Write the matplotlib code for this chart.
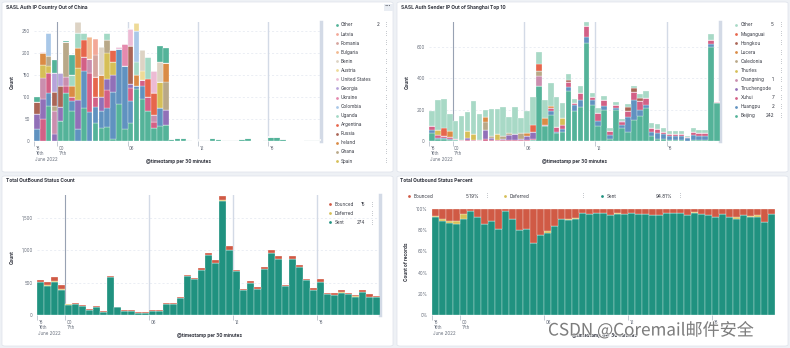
import matplotlib
matplotlib.use("Agg")
import matplotlib.pyplot as plt
import matplotlib.patheffects as pe
from matplotlib.patches import FancyBboxPatch, Rectangle
from matplotlib.lines import Line2D
from matplotlib.transforms import ScaledTranslation
import numpy as np

plt.rcParams['font.family'] = ['Inter', 'DejaVu Sans']

W, H = 790, 348
N_BARS = 49  # 30 minute buckets, 22:00 16th -> 22:30 17th
tick_pos = [0, 4, 16, 28, 40]
tick_labels = ["18\n16th\nJune 2022", "00\n17th", "06", "12", "18"]

# ---- SASL Auth IP Country Out of China (first 23 buckets, bottom -> top)
tl_hidden_green = [0, 0, 80, 0, 45, 110, 68, 0, 75, 0, 40, 30, 32, 5, 85, 28, 40, 118, 95, 68, 30, 35, 37]
tl_hidden_blue = [28, 0, 28, 0, 0, 0, 22, 28, 83, 65, 38, 38, 43, 107, 123, 142, 50, 7, 30, 0, 0, 40, 0]
tl_hidden_pink = [0, 50, 47, 0, 0, 15, 10, 0, 32, 90, 22, 0, 40, 0, 0, 0, 30, 0, 13, 32, 12, 0, 0]
tl_hidden_purple = [34, 46, 0, 15, 32, 0, 0, 64, 0, 0, 0, 32, 25, 38, 0, 0, 10, 0, 0, 0, 0, 0, 34]
tl_hidden_mauve = [0, 46, 0, 53, 0, 20, 0, 0, 0, 32, 0, 0, 0, 0, 0, 0, 0, 0, 0, 0, 18, 0, 0]
tl_spain = [0, 30, 15, 0, 0, 0, 0, 73, 0, 0, 0, 0, 60, 30, 0, 0, 0, 0, 0, 0, 0, 60, 0]
tl_ghana = [0, 0, 23, 12, 0, 80, 0, 0, 0, 0, 0, 0, 30, 0, 0, 0, 0, 0, 0, 0, 0, 0, 64]
tl_ireland = [0, 28, 0, 0, 0, 0, 25, 45, 0, 0, 0, 50, 0, 0, 0, 0, 0, 25, 0, 0, 0, 0, 41]
tl_russia = [26, 0, 0, 32, 48, 0, 0, 0, 0, 0, 0, 0, 0, 0, 0, 0, 85, 0, 0, 0, 0, 0, 0]
tl_argentina = [0, 0, 0, 0, 0, 0, 0, 0, 40, 0, 45, 0, 0, 26, 0, 0, 0, 0, 0, 40, 50, 0, 0]
tl_uganda = [0, 0, 0, 0, 0, 0, 25, 35, 14, 0, 0, 0, 15, 0, 0, 0, 0, 30, 0, 50, 0, 0, 0]
tl_colombia = [0, 0, 52, 0, 0, 0, 0, 0, 0, 0, 0, 0, 0, 0, 0, 0, 0, 70, 0, 0, 0, 0, 0]
tl_ukraine = [0, 0, 0, 0, 0, 0, 0, 0, 0, 0, 0, 0, 0, 0, 0, 50, 0, 0, 0, 0, 0, 0, 0]
tl_georgia = [0, 0, 0, 43, 30, 0, 0, 0, 0, 0, 0, 0, 0, 0, 0, 0, 0, 0, 0, 0, 0, 0, 0]
tl_us = [0, 2, 0, 0, 0, 0, 0, 0, 0, 0, 0, 0, 0, 0, 6, 0, 40, 0, 0, 0, 48, 0, 0]
tl_austria = [0, 0, 0, 0, 0, 0, 0, 0, 0, 0, 0, 0, 0, 0, 0, 0, 0, 18, 20, 0, 0, 0, 0]
tl_benin = [0, 0, 0, 0, 0, 0, 0, 25, 0, 0, 0, 63, 0, 0, 0, 0, 0, 0, 49, 0, 0, 45, 0]
tl_bulgaria = [0, 0, 0, 0, 0, 0, 0, 0, 0, 48, 0, 0, 0, 0, 0, 0, 0, 0, 0, 0, 0, 0, 0]
tl_romania = [0, 0, 0, 0, 0, 0, 0, 0, 0, 0, 50, 0, 0, 0, 0, 0, 0, 0, 0, 0, 0, 0, 0]
tl_latvia = [0, 0, 0, 0, 0, 0, 0, 0, 0, 0, 37, 0, 0, 0, 0, 0, 0, 0, 0, 0, 0, 0, 0]
tl_other = [12, 0, 0, 28, 0, 3, 45, 0, 0, 0, 0, 0, 0, 0, 0, 0, 0, 0, 0, 0, 0, 35, 35]
# remaining 26 buckets, all in the bottom series
tl_tail = [5, 6, 6, 2, 0, 3, 3, 7, 4, 2, 3, 3, 5, 7, 0, 0, 2, 10, 8, 4, 1, 1, 1, 3, 2, 2]

tl_layers = [
    (tl_hidden_green, '#54B399'), (tl_hidden_blue, '#6092C0'), (tl_hidden_pink, '#D36086'),
    (tl_hidden_purple, '#9170B8'), (tl_hidden_mauve, '#CA8EAE'), (tl_spain, '#D6BF57'),
    (tl_ghana, '#B9A888'), (tl_ireland, '#DA8B45'), (tl_russia, '#AA6556'),
    (tl_argentina, '#E7664C'), (tl_uganda, '#A3D9C5'), (tl_colombia, '#A9C8E8'),
    (tl_ukraine, '#E58AAE'), (tl_georgia, '#B6A3DA'), (tl_us, '#EDBBD4'),
    (tl_austria, '#EEDA97'), (tl_benin, '#DDD3C4'), (tl_bulgaria, '#F2B88F'),
    (tl_romania, '#D6A49D'), (tl_latvia, '#F3A898'), (tl_other, '#54B399'),
]
tl_legend = [("Other", '#54B399', "2"), ("Latvia", '#F3A898', ""), ("Romania", '#D6A49D', ""),
             ("Bulgaria", '#F2B88F', ""), ("Benin", '#DDD3C4', ""), ("Austria", '#EEDA97', ""),
             ("United States", '#EDBBD4', ""), ("Georgia", '#B6A3DA', ""), ("Ukraine", '#E58AAE', ""),
             ("Colombia", '#A9C8E8', ""), ("Uganda", '#A3D9C5', ""), ("Argentina", '#E7664C', ""),
             ("Russia", '#AA6556', ""), ("Ireland", '#DA8B45', ""), ("Ghana", '#B9A888', ""),
             ("Spain", '#D6BF57', "")]

# ---- SASL Auth Sender IP Out of Shanghai Top 10
tr_beijing = [50, 10, 10, 5, 5, 3, 2, 2, 2, 3, 2, 2, 2, 2, 2, 2, 3, 5, 350, 95, 165, 50, 55, 320, 190,
              220, 625, 230, 95, 200, 15, 195, 80, 60, 135, 160, 210, 30, 15, 10, 5, 5, 5, 3, 5, 5, 5, 600, 240]
tr_huangpu = [20, 10, 10, 10, 3, 0, 0, 0, 0, 0, 0, 0, 0, 0, 0, 0, 0, 0, 0, 0, 25, 10, 20, 23, 40,
              45, 40, 30, 35, 25, 25, 15, 25, 95, 127, 40, 20, 25, 35, 35, 30, 30, 30, 15, 35, 30, 30, 20, 0]
tr_xuhui = [25, 20, 15, 10, 5, 3, 5, 5, 3, 8, 3, 3, 3, 3, 3, 3, 5, 8, 3, 5, 20, 30, 25, 35, 10,
            40, 70, 20, 50, 40, 25, 20, 15, 35, 53, 55, 45, 25, 25, 15, 10, 10, 10, 8, 15, 15, 15, 25, 7]
# sparse series: {bucket number (1-based): count}
tr_tiruchengode = {7: 10, 10: 60, 11: 15, 13: 10, 14: 35, 15: 40, 16: 10, 17: 25, 18: 45, 33: 5}
tr_changning = {19: 63}
tr_thurles = {2: 30, 7: 45, 8: 40, 12: 40, 23: 45}
tr_caledonia = {10: 52, 11: 10, 13: 20, 14: 10, 16: 35, 19: 30}
tr_lucera = {4: 36, 10: 32, 17: 20, 20: 45, 21: 15}
tr_hongkou = {24: 10, 33: 5, 34: 30, 35: 22, 36: 22, 38: 5}
tr_maganguai = {3: 50, 18: 45, 19: 48}
tr_other = [98, 192, 182, 110, 116, 151, 124, 211, 166, 44, 173, 162, 185, 102, 175, 100, 140, 180, 75, 120,
            147, 193, 100, 39, 27, 46, 25, 25, 30, 23, 18, 22, 10, 17, 13, 25, 47, 33, 35, 23, 16, 16, 16, 8,
            25, 20, 22, 36, 5]
tr_legend = [("Other", '#A8D9C6', "5"), ("Maganguai", '#E7664C', ""), ("Hongkou", '#AA6556', ""),
             ("Lucera", '#DA8B45', ""), ("Caledonia", '#B9A888', ""), ("Thurles", '#D6BF57', ""),
             ("Changning", '#CA8EAE', "1"), ("Tiruchengode", '#9170B8', ""), ("Xuhui", '#D36086', "7"),
             ("Huangpu", '#6092C0', "2"), ("Beijing", '#54B399', "242")]

# ---- Total OutBound Status Count
sent = [509, 453, 510, 392,
        157, 176, 138, 77, 120, 49, 593, 117, 64, 57, 34, 38,
        59, 63, 163, 166, 259, 598, 550, 691, 922, 799, 1760, 1007,
        673, 380, 499, 405, 703, 960, 871, 446, 863, 746, 535, 385,
        510, 319, 311, 345, 318, 285, 358, 279, 275]
deferred = [0, 7, 10, 8,
            9, 0, 0, 0, 0, 0, 0, 0, 0, 0, 0, 0,
            1, 0, 0, 2, 3, 0, 0, 0, 0, 0, 15, 0,
            0, 0, 0, 0, 0, 0, 0, 0, 0, 0, 0, 0,
            3, 0, 0, 5, 2, 2, 3, 0, 0]
bounced = [36, 55, 65, 55,
           9, 4, 12, 13, 15, 11, 12, 13, 16, 13, 16, 12,
           15, 12, 17, 17, 23, 22, 25, 29, 33, 46, 65, 53,
           27, 20, 26, 25, 42, 35, 34, 19, 52, 29, 25, 25,
           42, 16, 24, 35, 20, 23, 29, 41, 15]

# ---- Total Outbound Status Percent
sent_pct = [92.7, 88.9, 87.0, 86.3,
            90.2, 98.0, 92.0, 86.3, 88.6, 81.0, 98.0, 90.5, 80.3, 81.6, 68.0, 75.9,
            77.5, 84.0, 90.5, 89.8, 91.0, 96.5, 95.6, 95.9, 96.5, 94.6, 95.6, 95.0,
            96.2, 95.0, 95.0, 94.3, 94.3, 96.5, 96.2, 95.9, 94.3, 96.2, 95.6, 94.0,
            92.0, 95.2, 92.7, 91.0, 94.0, 92.7, 92.7, 87.3, 95.0]
deferred_pct = [0.9, 1.3, 1.9, 2.3,
                5.0, 0.5, 0.5, 0, 0, 0, 0, 0, 0, 0, 0, 0,
                1.5, 0, 0, 0.7, 0.9, 0, 0, 0, 0, 0, 0.6, 0,
                0, 0, 0, 0, 0, 0, 0, 0, 0, 0.6, 0, 0,
                0.9, 0, 0, 1.2, 0.6, 0.9, 1.2, 0, 0]
bounced_pct = [6.4, 9.8, 11.1, 11.4,
               4.8, 1.5, 7.5, 13.7, 11.4, 19.0, 2.0, 9.5, 19.7, 18.4, 32.0, 24.1,
               21.0, 16.0, 9.5, 9.5, 8.1, 3.5, 4.4, 4.1, 3.5, 5.4, 3.8, 5.0,
               3.8, 5.0, 5.0, 5.7, 5.7, 3.5, 3.8, 4.1, 5.7, 3.2, 4.4, 6.0,
               7.1, 4.8, 7.3, 7.8, 5.4, 6.4, 6.1, 12.7, 5.0]

SENT_C, DEF_C, BOUNCE_C = '#209280', '#D6BF57', '#D05A45'
TXT, SUB = '#343741', '#69707D'

fig = plt.figure(figsize=(W / 100, H / 100), dpi=100)
fig.patch.set_facecolor('#EEF1F5')


def px_ax(l, t, r, b):
    return fig.add_axes([l / W, 1 - b / H, (r - l) / W, (b - t) / H])


def ftext(x, y, s, **kw):
    return fig.text(x / W, 1 - y / H, s, **kw)


def dot(x, y, c):
    fig.add_artist(Line2D([x / W], [1 - y / H], marker='o', ms=2.0, mec='none', mfc=c,
                          transform=fig.transFigure))


def card(l, t, r, b):
    fig.add_artist(FancyBboxPatch((l / W, 1 - b / H), (r - l) / W, (b - t) / H,
                                  boxstyle='round,pad=0,rounding_size=0.004',
                                  transform=fig.transFigure, fc='white', ec='#DDE2EA', lw=0.5, zorder=0))


def expand(d):
    v = np.zeros(N_BARS)
    for k, val in d.items():
        v[k - 1] = val
    return v


xs = np.arange(N_BARS) + 0.5


def stack(ax, layers):
    bottom = np.zeros(N_BARS)
    for vals, col in layers:
        vals = np.asarray(vals, dtype=float)
        ax.bar(xs, vals, width=0.93, bottom=bottom, color=col, edgecolor='white',
               linewidth=0.2, zorder=2)
        bottom += vals


def time_axis(ax, ymax, yticks, ylabels, end_marker=True):
    ax.set_facecolor('none')
    ax.set_xlim(0, N_BARS)
    ax.set_ylim(0, ymax)
    for s in ax.spines.values():
        s.set_visible(False)
    ax.set_yticks(yticks, ylabels)
    ax.tick_params(axis='y', length=0, labelsize=3.2, labelcolor=SUB, pad=3)
    ax.set_xticks(tick_pos, tick_labels)
    ax.tick_params(axis='x', length=3.5, width=0.4, color='#98A2B3', labelsize=3.2,
                   labelcolor=SUB, pad=0.3)
    off = ScaledTranslation(1.3 / 100, 0, fig.dpi_scale_trans)
    for lbl in ax.get_xticklabels():
        lbl.set_ha('left')
        lbl.set_linespacing(1.05)
        lbl.set_transform(lbl.get_transform() + off)
    for y in yticks[1:]:
        ax.axhline(y, color='#E3E8F0', lw=0.5, ls=(0, (3, 3)), zorder=0)
    ax.axvline(4, color='#98A2B3', lw=0.8, zorder=1)
    for v in (16, 28, 40):
        ax.axvline(v, color='#D3DAE6', lw=1.0, zorder=1)
    if end_marker:
        ax.axvline(N_BARS, color='#D3DAE6', lw=2.5, zorder=1, clip_on=False)


card(2, 2, 393, 172)
card(397, 2, 788, 172)
card(2, 176, 393, 346)
card(397, 176, 788, 346)

# ---------------- top left
ax1 = px_ax(34, 22, 321, 141)
layers = []
for vals, col in tl_layers:
    v = np.zeros(N_BARS)
    v[:23] = vals
    layers.append((v, col))
layers[0][0][23:] = tl_tail
stack(ax1, layers)
time_axis(ax1, 270, [0, 50, 100, 150, 200, 250], ["0", "50", "100", "150", "200", "250"])
ftext(6, 7.5, "SASL Auth IP Country Out of China", fontsize=3.5, fontweight='bold', color=TXT, va='center')
ftext(12, 82, "Count", fontsize=3.4, fontweight='bold', color=TXT, rotation=90, ha='center', va='center')
ftext(178, 162, "@timestamp per 30 minutes", fontsize=3.4, fontweight='bold', color=TXT, ha='center', va='center')
for i, (name, col, val) in enumerate(tl_legend):
    y = 25 + i * 9.07
    dot(336.5, y, col)
    ftext(341, y, name, fontsize=3.4, color=TXT, va='center')
    if val:
        ftext(379, y, val, fontsize=3.4, color=TXT, va='center', ha='right')
    ftext(386, y, "⋮", fontsize=3.6, color=SUB, va='center', ha='center', family='DejaVu Sans')
fig.add_artist(Rectangle((383.5 / W, 1 - 11 / H), 9 / W, 7 / H, transform=fig.transFigure,
                         fc='#E9EDF3', ec='none'))
ftext(388, 7.3, "•••", fontsize=2.6, color=TXT, ha='center', va='center', family='DejaVu Sans')

# ---------------- top right
ax2 = px_ax(429, 22, 720, 141)
stack(ax2, [
    (tr_beijing, '#54B399'), (tr_huangpu, '#6092C0'), (tr_xuhui, '#D36086'),
    (expand(tr_tiruchengode), '#9170B8'), (expand(tr_changning), '#CA8EAE'),
    (expand(tr_thurles), '#D6BF57'), (expand(tr_caledonia), '#B9A888'),
    (expand(tr_lucera), '#DA8B45'), (expand(tr_hongkou), '#AA6556'),
    (expand(tr_maganguai), '#E7664C'), (tr_other, '#A8D9C6'),
])
time_axis(ax2, 760, [0, 200, 400, 600], ["0", "200", "400", "600"])
ftext(401, 7.5, "SASL Auth Sender IP Out of Shanghai Top 10", fontsize=3.5, fontweight='bold', color=TXT, va='center')
ftext(407, 82, "Count", fontsize=3.4, fontweight='bold', color=TXT, rotation=90, ha='center', va='center')
ftext(574, 162, "@timestamp per 30 minutes", fontsize=3.4, fontweight='bold', color=TXT, ha='center', va='center')
for i, (name, col, val) in enumerate(tr_legend):
    y = 25 + i * 9.1
    dot(736, y, col)
    ftext(740.5, y, name, fontsize=3.4, color=TXT, va='center')
    if val:
        ftext(774, y, val, fontsize=3.4, color=TXT, va='center', ha='right')
    ftext(781, y, "⋮", fontsize=3.6, color=SUB, va='center', ha='center', family='DejaVu Sans')

# ---------------- bottom left
ax3 = px_ax(37, 195, 380, 315)
stack(ax3, [(sent, SENT_C), (deferred, DEF_C), (bounced, BOUNCE_C)])
time_axis(ax3, 1850, [0, 500, 1000, 1500], ["0", "500", "1,000", "1,500"])
ftext(6, 181, "Total OutBound Status Count", fontsize=3.5, fontweight='bold', color=TXT, va='center')
ftext(12, 257, "Count", fontsize=3.4, fontweight='bold', color=TXT, rotation=90, ha='center', va='center')
ftext(209, 335, "@timestamp per 30 minutes", fontsize=3.4, fontweight='bold', color=TXT, ha='center', va='center')
for i, (name, col, val) in enumerate([("Bounced", BOUNCE_C, "15"), ("Deferred", DEF_C, ""), ("Sent", SENT_C, "274")]):
    y = 204.3 + i * 9
    dot(330, y, col)
    ftext(334.5, y, name, fontsize=3.3, color=TXT, va='center')
    if val:
        ftext(365, y, val, fontsize=3.3, color=TXT, va='center', ha='right')
    ftext(372, y, "⋮", fontsize=3.6, color=SUB, va='center', ha='center', family='DejaVu Sans')

# ---------------- bottom right
ax4 = px_ax(432, 209, 775, 315)
stack(ax4, [(sent_pct, SENT_C), (deferred_pct, DEF_C), (bounced_pct, BOUNCE_C)])
time_axis(ax4, 100, [0, 20, 40, 60, 80, 100], ["0%", "20%", "40%", "60%", "80%", "100%"], end_marker=False)
ftext(400, 181, "Total Outbound Status Percent", fontsize=3.5, fontweight='bold', color=TXT, va='center')
ftext(407, 262, "Count of records", fontsize=3.4, fontweight='bold', color=TXT, rotation=90, ha='center', va='center')
ftext(605, 335, "@timestamp per 30 minutes", fontsize=3.4, fontweight='bold', color=TXT, ha='center', va='center')
pct_legend = [("Bounced", BOUNCE_C, "5.19%", 409, 479, 487),
              ("Deferred", DEF_C, "", 505, 0, 583),
              ("Sent", SENT_C, "94.81%", 602, 672, 680)]
for name, col, val, xd, xv, xm in pct_legend:
    dot(xd, 196, col)
    ftext(xd + 4.5, 196, name, fontsize=3.4, color=TXT, va='center')
    if val:
        ftext(xv, 196, val, fontsize=3.4, color=TXT, va='center', ha='right')
    ftext(xm, 196, "⋮", fontsize=3.6, color=SUB, va='center', ha='center', family='DejaVu Sans')

# watermark (sits over the x label, as in the screenshot)
ftext(548, 335.5, "CSDN @Coremail邮件安全", fontsize=12.3, color='#707070', alpha=0.9, va='baseline', ha='left',
      family=['Noto Sans CJK SC', 'DejaVu Sans'],
      path_effects=[pe.withStroke(linewidth=1.2, foreground='white')])

fig.savefig("out.png", dpi=100, facecolor=fig.get_facecolor())
